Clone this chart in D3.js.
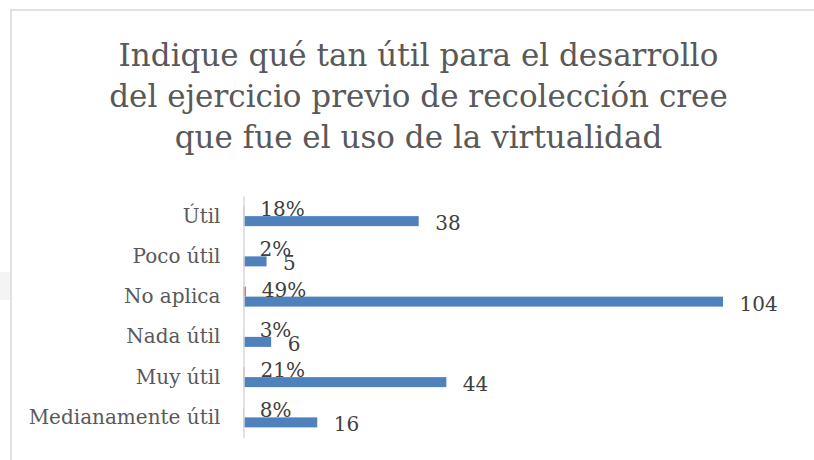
<!DOCTYPE html>
<html>
<head>
<meta charset="utf-8">
<script src="https://cdn.jsdelivr.net/npm/d3@7"></script>
<style>
  html, body { margin: 0; padding: 0; background: #fff; }
  svg { display: block; }
</style>
</head>
<body>
<svg id="chart" width="814" height="460"></svg>
<script>
// data
const categories = ['Útil', 'Poco útil', 'No aplica', 'Nada útil', 'Muy útil', 'Medianamente útil'];
const counts = [38, 5, 104, 6, 44, 16];
const percents = [0.18, 0.02, 0.49, 0.03, 0.21, 0.08];
const percentLabels = ['18%', '2%', '49%', '3%', '21%', '8%'];
const titleLines = [
  'Indique qué tan útil para el desarrollo',
  'del ejercicio previo de recolección cree',
  'que fue el uso de la virtualidad'
];

const font = '"DejaVu Serif", "Liberation Serif", serif';
const svg = d3.select('#chart');

// frame of the chart area (page edges)
svg.append('rect')
  .attr('x', 0).attr('y', 272).attr('width', 10).attr('height', 28)
  .attr('fill', '#f4f4f4');
svg.append('path')
  .attr('d', 'M11,460 V10 H814')
  .attr('fill', 'none')
  .attr('stroke', '#d9d9d9')
  .attr('stroke-width', 1.5);

// title
svg.append('g')
  .selectAll('text')
  .data(titleLines)
  .join('text')
  .attr('x', 418.5)
  .attr('y', (d, i) => 66 + i * 41)
  .attr('text-anchor', 'middle')
  .attr('font-family', font)
  .attr('font-size', 31)
  .attr('fill', '#595959')
  .text(d => d);

const margin = { left: 243.5, top: 196 };
const x = d3.scaleLinear().domain([0, 104]).range([margin.left, 723]);
const y = d3.scaleBand().domain(categories).range([margin.top, 437.5]);
const sub = d3.scaleBand().domain(['pct', 'count']).range([y.bandwidth() / 2 - 10, y.bandwidth() / 2 + 10]);

const g = svg.append('g');

// percent series (tiny red bars)
g.selectAll('rect.pct')
  .data(categories)
  .join('rect')
  .attr('class', 'pct')
  .attr('x', x(0))
  .attr('y', d => y(d) + sub('pct'))
  .attr('width', (d, i) => x(percents[i]) - x(0))
  .attr('height', sub.bandwidth())
  .attr('fill', '#c0504d');

// count series
g.selectAll('rect.count')
  .data(categories)
  .join('rect')
  .attr('class', 'count')
  .attr('x', x(0))
  .attr('y', d => y(d) + sub('count'))
  .attr('width', (d, i) => x(counts[i]) - x(0))
  .attr('height', sub.bandwidth())
  .attr('fill', '#4f81bd');

// category axis
const axis = svg.append('g')
  .attr('transform', `translate(${x(0)},0)`)
  .call(d3.axisLeft(y).tickSize(0).tickPadding(23));
axis.select('.domain').attr('stroke', '#d9d9d9').attr('stroke-width', 1.5);
axis.selectAll('text')
  .attr('font-family', font)
  .attr('font-size', 20)
  .attr('fill', '#595959');

// data labels
g.selectAll('text.pct')
  .data(categories)
  .join('text')
  .attr('class', 'pct')
  .attr('x', (d, i) => x(percents[i]) + 16)
  .attr('y', d => y(d) + sub('pct') + sub.bandwidth() / 2 - 2)
  .attr('dy', '0.35em')
  .attr('font-family', font)
  .attr('font-size', 20)
  .attr('fill', '#404040')
  .text((d, i) => percentLabels[i]);

g.selectAll('text.count')
  .data(categories)
  .join('text')
  .attr('class', 'count')
  .attr('x', (d, i) => x(counts[i]) + 16.5)
  .attr('y', d => y(d) + sub('count') + sub.bandwidth() / 2 + 2)
  .attr('dy', '0.35em')
  .attr('font-family', font)
  .attr('font-size', 20)
  .attr('fill', '#404040')
  .text((d, i) => counts[i]);
</script>
</body>
</html>
